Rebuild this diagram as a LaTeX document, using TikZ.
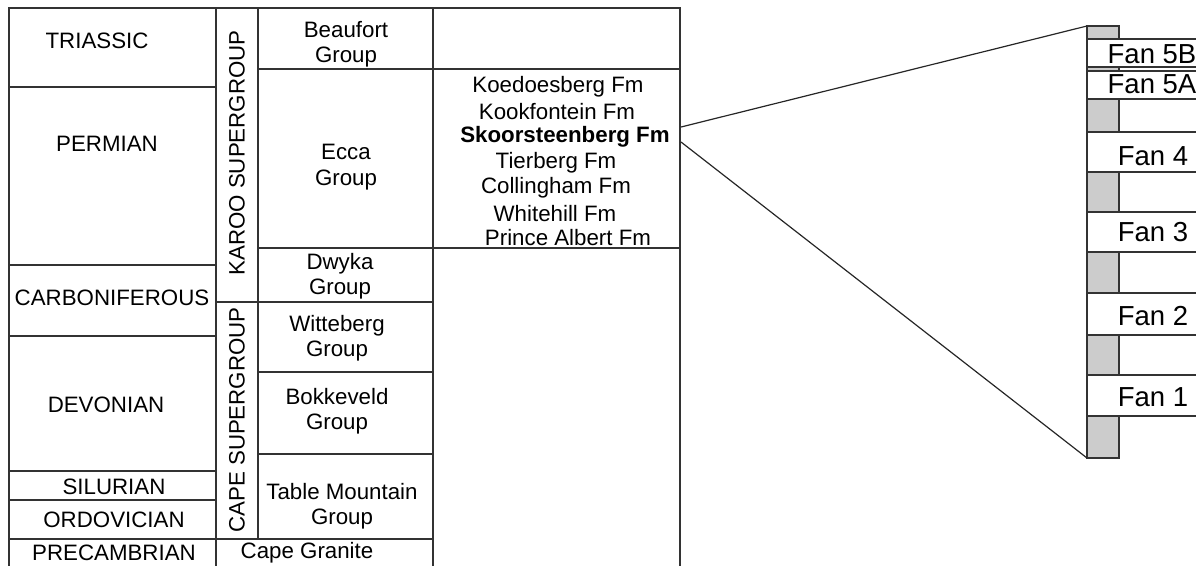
\documentclass[tikz,border=0pt]{standalone}
\usepackage{fontspec}
\setmainfont{Liberation Sans}

\begin{document}
\begin{tikzpicture}[x=1pt, y=-1pt,
		cell/.style={draw=black!80, line width=1.4pt},
		lbl/.style={font=\fontsize{22.3}{25.5}\selectfont, inner sep=0pt, align=center},
		fanbox/.style={draw=black!80, line width=1.2pt, fill=white},
		fanlbl/.style={font=\fontsize{27.5}{30}\selectfont, inner sep=0pt},
		mud/.style={draw=black!80, line width=1.2pt, fill=black!20}]
		\useasboundingbox (0,0) rectangle (1196,565);
		\clip (0,0) rectangle (1196,565);

		% periods
		\draw[cell] (9,8) rectangle (216,87);
		\draw[cell] (9,87) rectangle (216,265);
		\draw[cell] (9,265) rectangle (216,336);
		\draw[cell] (9,336) rectangle (216,471);
		\draw[cell] (9,471) rectangle (216,500);
		\draw[cell] (9,500) rectangle (216,539);
		\draw[cell] (9,539) rectangle (216,580);

		% supergroups
		\draw[cell] (216,8) rectangle (258,302);
		\draw[cell] (216,302) rectangle (258,539);
		\draw[cell] (216,539) rectangle (433,580);

		% groups
		\draw[cell] (258,8) rectangle (433,69);
		\draw[cell] (258,69) rectangle (433,248);
		\draw[cell] (258,248) rectangle (433,302);
		\draw[cell] (258,302) rectangle (433,372);
		\draw[cell] (258,372) rectangle (433,454);
		\draw[cell] (258,454) rectangle (433,539);

		% formations
		\draw[cell] (433,8) rectangle (680,69);
		\draw[cell] (433,69) rectangle (680,248);
		\draw[cell] (433,248) rectangle (680,580);

		\node[lbl] (tri) at (97,41) {TRIASSIC};
		\node[lbl] (per) at (107,144) {PERMIAN};
		\node[lbl] (carb) at (112,298) {CARBONIFEROUS};
		\node[lbl] (dev) at (106,405) {DEVONIAN};
		\node[lbl] (sil) at (114,487) {SILURIAN};
		\node[lbl] (ord) at (114,520) {ORDOVICIAN};
		\node[lbl] (prec) at (114,553) {PRECAMBRIAN};

		\node[lbl, rotate=90] (karoo) at (237,153) {KAROO SUPERGROUP};
		\node[lbl, rotate=90] (cape) at (237,420) {CAPE SUPERGROUP};
		\node[lbl] (granite) at (307,553) {Cape Granite};

		\node[lbl] (beau) at (346,44) {Beaufort\\Group};
		\node[lbl] (ecca) at (346,167) {Ecca\\Group};
		\node[lbl] (dwyka) at (340,276) {Dwyka\\Group};
		\node[lbl] (witt) at (337,338) {Witteberg\\Group};
		\node[lbl] (bokk) at (337,411) {Bokkeveld\\Group};
		\node[lbl] (tmg) at (342,506) {Table Mountain\\Group};

		\node[lbl] (koed) at (558,87) {Koedoesberg Fm};
		\node[lbl] (kook) at (557,112) {Kookfontein Fm};
		\node[lbl, font=\fontsize{22.3}{25.5}\selectfont\bfseries] (sk) at (565,137) {Skoorsteenberg Fm};
		\node[lbl] (tier) at (556,163) {Tierberg Fm};
		\node[lbl] (coll) at (556,188) {Collingham Fm};
		\node[lbl] (white) at (555,214) {Whitehill Fm};
		\node[lbl] (pa) at (568,238) {Prince Albert Fm};

		% fan log
		\draw[mud] (1087,26) rectangle (1119,458);
		\draw[fanbox] (1087,39) rectangle (1230,67);
		\draw[fanbox] (1087,71) rectangle (1230,99);
		\draw[fanbox] (1087,132) rectangle (1230,172);
		\draw[fanbox] (1087,212) rectangle (1230,252);
		\draw[fanbox] (1087,293) rectangle (1230,335);
		\draw[fanbox] (1087,375) rectangle (1230,416);

		\node[fanlbl] (f5b) at (1152,54) {Fan 5B};
		\node[fanlbl] (f5a) at (1152,84) {Fan 5A};
		\node[fanlbl] (f4) at (1153,156) {Fan 4};
		\node[fanlbl] (f3) at (1153,232) {Fan 3};
		\node[fanlbl] (f2) at (1153,316) {Fan 2};
		\node[fanlbl] (f1) at (1153,397) {Fan 1};

		\coordinate (skup) at (681,127);
		\coordinate (skdn) at (681,142);
		\coordinate (fantop) at (1087,26);
		\coordinate (fanbot) at (1087,458);
		\draw[line width=1.2pt, black!85] (skup) -- (fantop);
		\draw[line width=1.2pt, black!85] (skdn) -- (fanbot);
	\end{tikzpicture}
\end{document}
